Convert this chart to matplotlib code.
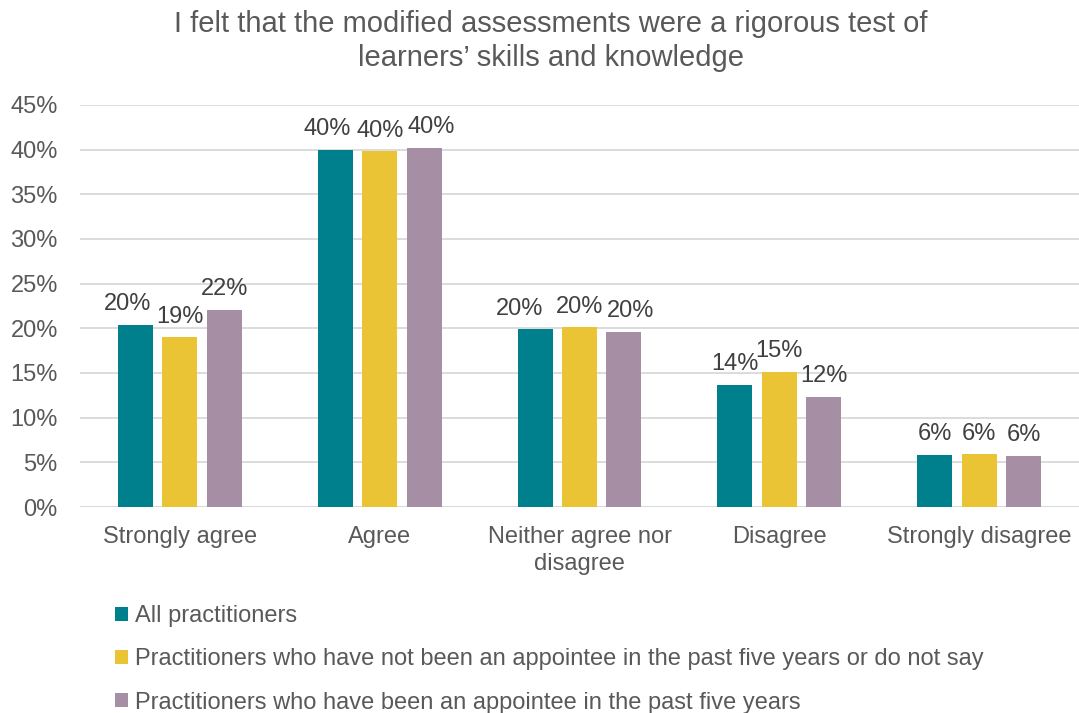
import numpy as np
import matplotlib.pyplot as plt
from matplotlib.patches import Patch

# Data
categories = ['Strongly agree', 'Agree', 'Neither agree nor\ndisagree', 'Disagree', 'Strongly disagree']
series_names = ['All practitioners',
                'Practitioners who have not been an appointee in the past five years or do not say',
                'Practitioners who have been an appointee in the past five years']
all_pract   = [20.4, 40.0, 19.9, 13.7, 5.8]
not_appt    = [19.0, 39.8, 20.1, 15.1, 5.9]
appt        = [22.1, 40.2, 19.6, 12.3, 5.7]
yticks      = [0, 5, 10, 15, 20, 25, 30, 35, 40, 45]
title       = 'I felt that the modified assessments were a rigorous test of\nlearners\u2019 skills and knowledge'

colors = ['#00808D', '#EAC435', '#A68EA5']
txt_col = '#595959'
plt.rcParams['font.family'] = ['Liberation Sans', 'DejaVu Sans']

# horizontal nudges (points) of data labels so crowded ones don't overlap
nudge = [[-6, -6, -11.5, 0, 0],
         [0, 0, 0, 0, 0],
         [0, 5, 5, 0, 0]]

fig = plt.figure(figsize=(10.79, 7.13), dpi=100)
ax = fig.add_axes([80/1079, 1-507/713, 999/1079, 402/713])

x = np.arange(len(categories))
w = 0.175
step = 0.2225
for i, vals in enumerate([all_pract, not_appt, appt]):
    bars = ax.bar(x + (i-1)*step, vals, width=w, color=colors[i], zorder=3)
    for j, (b, v) in enumerate(zip(bars, vals)):
        ax.annotate(f'{v:.0f}%', (b.get_x() + b.get_width()/2, v),
                    xytext=(nudge[i][j], 7), textcoords='offset points',
                    ha='center', va='bottom', fontsize=17, color='#404040')

ax.set_xlim(-0.5, 4.5)
ax.set_ylim(0, 45)
ax.set_yticks(yticks)
ax.set_yticklabels([f'{t}%' for t in yticks])
ax.set_xticks(x)
ax.set_xticklabels(categories, linespacing=1.28)
ax.yaxis.grid(True, color='#D9D9D9', linewidth=1.3, zorder=0)
for s in ax.spines.values():
    s.set_visible(False)
ax.axhline(0, color='#D9D9D9', linewidth=1.3, zorder=2)
ax.tick_params(axis='both', length=0, labelsize=17, colors=txt_col)
ax.tick_params(axis='x', pad=14)
ax.tick_params(axis='y', pad=16)

fig.text(551/1079, 1-10/713, title, ha='center', va='top', fontsize=21,
         color=txt_col, linespacing=1.25)

handles = [Patch(facecolor=c) for c in colors]
leg = fig.legend(handles, series_names, loc='upper left',
                 bbox_to_anchor=(115/1079, 1-605/713), frameon=False,
                 fontsize=17, labelcolor=txt_col, handlelength=0.55,
                 handleheight=0.55, handletextpad=0.3, labelspacing=0.9,
                 borderaxespad=0, borderpad=0)

fig.savefig('out.png', dpi=100)
